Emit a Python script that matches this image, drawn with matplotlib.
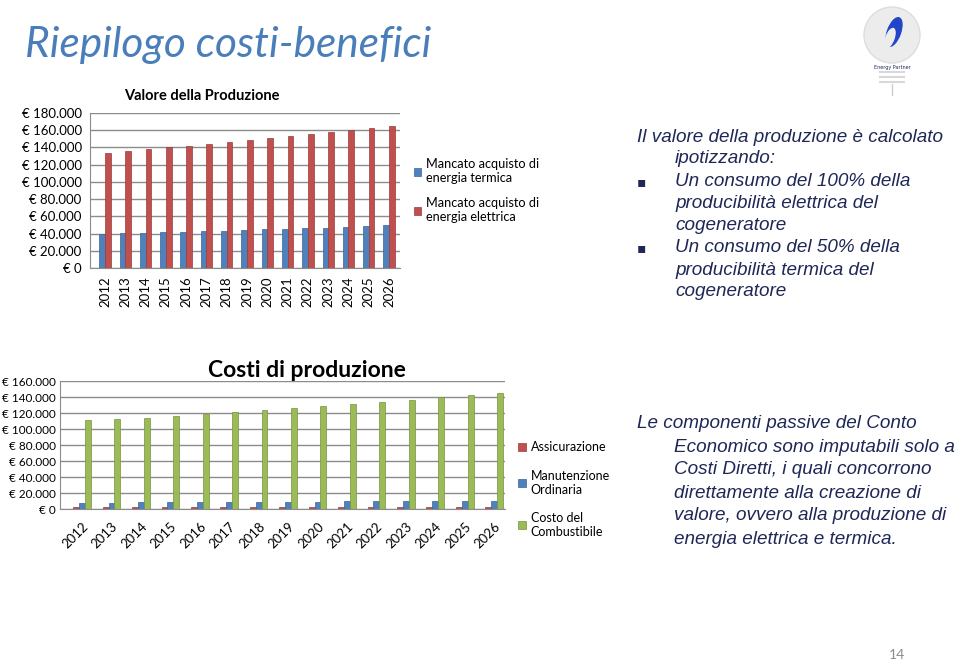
import numpy as np
import matplotlib
matplotlib.use("Agg")
import matplotlib.pyplot as plt
from matplotlib.patches import Circle, Ellipse
from matplotlib.ticker import FuncFormatter

# --- data (euro) ---
years = [str(y) for y in range(2012, 2027)]

termica = [40000, 40500, 41000, 41500, 42000, 43000, 43500, 44500, 45000,
           45500, 46500, 47000, 48000, 48500, 49500]
elettrica = [134000, 136000, 138000, 140000, 142000, 144000, 146500, 148500,
             151000, 153000, 155500, 158000, 160500, 163000, 165000]

assicurazione = [2500] * 15
manutenzione = [8000, 8000, 8200, 8300, 8500, 8700, 8800, 9000, 9200, 9400,
                9600, 9800, 10000, 10300, 10500]
combustibile = [111000, 112000, 114000, 116500, 119000, 121000, 123500,
                126000, 128500, 131000, 134000, 136500, 139500, 142000, 144500]

BLUE = "#4F81BD"
RED = "#C0504D"
GREEN = "#9BBB59"
NAVY = "#1F2756"
W, H = 959, 662
CHART_FONT = "Lato"


def euro(v, pos):
    if v == 0:
        return "€ 0"
    return "€ " + f"{int(v):,}".replace(",", ".")


def px_axes(fig, left, top, right, bottom):
    return fig.add_axes([left / W, 1 - bottom / H, (right - left) / W, (bottom - top) / H])


def style_axes(ax, ymax, step, fs):
    ax.set_ylim(0, ymax)
    ax.set_yticks(np.arange(0, ymax + 1, step))
    ax.yaxis.set_major_formatter(FuncFormatter(euro))
    ax.grid(axis="y", color="#8c8c8c", lw=1)
    ax.set_axisbelow(True)
    for s in ["top", "right"]:
        ax.spines[s].set_visible(False)
    ax.spines["left"].set_color("#8c8c8c")
    ax.spines["bottom"].set_color("#8c8c8c")
    ax.tick_params(length=0, labelsize=fs, pad=6)
    for lab in ax.get_yticklabels() + ax.get_xticklabels():
        lab.set_fontfamily(CHART_FONT)


fig = plt.figure(figsize=(W / 100, H / 100), dpi=100)

# title
fig.text(25 / W, 1 - 45 / H, "Riepilogo costi-benefici", fontsize=30.5,
         style="italic", family="Lato", color="#4A7EBB", va="center")

# --- chart 1: Valore della Produzione ---
x = np.arange(len(years))
ax1 = px_axes(fig, 90, 113, 400, 268)
bw = 0.28
ax1.bar(x - bw / 2, termica, bw, color=BLUE, edgecolor="#3a6496", lw=0.5,
        label="Mancato acquisto di\nenergia termica")
ax1.bar(x + bw / 2, elettrica, bw, color=RED, edgecolor="#963c3a", lw=0.5,
        label="Mancato acquisto di\nenergia elettrica")
ax1.set_xlim(-0.74, 14.54)
ax1.set_xticks(x)
ax1.set_xticklabels(years, rotation=90)
style_axes(ax1, 180000, 20000, 9.5)
ax1.set_title("Valore della Produzione", fontsize=10.5, fontweight="bold",
              family=CHART_FONT, pad=9, x=0.36)
ax1.legend(loc="upper left", bbox_to_anchor=(402 / W, 1 - 147 / H),
           bbox_transform=fig.transFigure, frameon=False,
           prop={"family": CHART_FONT, "size": 9.2}, handlelength=0.6,
           handleheight=0.6, handletextpad=0.4, labelspacing=1.0)

# --- chart 2: Costi di produzione ---
ax2 = px_axes(fig, 60, 381, 505, 509)
bw2 = 0.2
ax2.bar(x - bw2, assicurazione, bw2, color=RED, edgecolor="#963c3a", lw=0.5,
        label="Assicurazione")
ax2.bar(x, manutenzione, bw2, color=BLUE, edgecolor="#3a6496", lw=0.5,
        label="Manutenzione\nOrdinaria")
ax2.bar(x + bw2, combustibile, bw2, color=GREEN, edgecolor="#76923c", lw=0.5,
        label="Costo del\nCombustibile")
ax2.set_xlim(-0.75, 14.37)
ax2.set_xticks(x)
ax2.set_xticklabels(years, rotation=45, ha="right", rotation_mode="anchor")
style_axes(ax2, 160000, 20000, 8.5)
ax2.tick_params(axis="y", pad=3)
ax2.tick_params(axis="x", labelsize=9.5, pad=8)
ax2.set_title("Costi di produzione", fontsize=16.5, family=CHART_FONT,
              fontweight="bold", pad=1, x=0.555)
ax2.legend(loc="upper left", bbox_to_anchor=(507 / W, 1 - 430 / H),
           bbox_transform=fig.transFigure, frameon=False,
           prop={"family": CHART_FONT, "size": 9}, handlelength=0.6,
           handleheight=0.6, handletextpad=0.4, labelspacing=1.3)

# --- text blocks ---
tfont = dict(family="Liberation Sans", style="italic", color=NAVY,
             fontsize=13.6, va="center")
block1 = [
    (637, 137, "Il valore della produzione è calcolato", False),
    (675, 159, "ipotizzando:", False),
    (675, 182, "Un consumo del 100% della", True),
    (675, 204, "producibilità elettrica del", False),
    (675, 226, "cogeneratore", False),
    (675, 248, "Un consumo del 50% della", True),
    (675, 270, "producibilità termica del", False),
    (675, 292, "cogeneratore", False),
]
for px, py, txt, bullet in block1:
    fig.text(px / W, 1 - py / H, txt, **tfont)
    if bullet:
        fig.text(637 / W, 1 - py / H, "▪", family="DejaVu Sans", color=NAVY,
                 fontsize=10, va="center")

block2 = [
    (637, 424, "Le componenti passive del Conto"),
    (674, 447, "Economico sono imputabili solo a"),
    (674, 470, "Costi Diretti, i quali concorrono"),
    (674, 493, "direttamente alla creazione di"),
    (674, 516, "valore, ovvero alla produzione di"),
    (674, 539, "energia elettrica e termica."),
]
for px, py, txt in block2:
    fig.text(px / W, 1 - py / H, txt, **tfont)

# page number
fig.text(897 / W, 1 - 655 / H, "14", fontsize=10, color="#8c8c8c",
         family="Lato", ha="center", va="center")

# logo (pixel coords inside its own box)
lax = px_axes(fig, 858, 2, 938, 98)
lax.set_xlim(0, 80)
lax.set_ylim(96, 0)
lax.axis("off")
lax.add_patch(Circle((34, 33), 28, color="#ececec", ec="#dddddd"))
lax.add_patch(Ellipse((36, 30), 13, 30, angle=20, color="#2244c8"))
lax.add_patch(Ellipse((32, 36), 8, 20, angle=20, color="#ececec"))
lax.text(34, 65, "Energy Partner", fontsize=3.5, ha="center", va="center",
         color="#1f2756")
for yy in (70, 75, 80):
    lax.plot([22, 46], [yy, yy], color="#d8d8d8", lw=1.5)
lax.plot([34, 34], [82, 93], color="#cccccc", lw=1)

fig.savefig("out.png", dpi=100)
